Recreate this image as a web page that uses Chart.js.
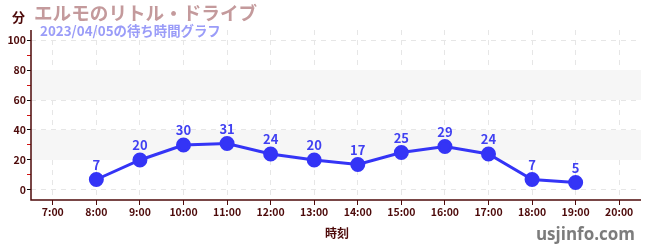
<!DOCTYPE html>
<html>
<head>
<meta charset="utf-8">
<script src="https://cdn.jsdelivr.net/npm/chart.js@4"></script>
<style>
  html, body { margin: 0; padding: 0; background: #fff; }
  #wrap { width: 650px; height: 250px; position: relative; }
</style>
</head>
<body>
<div id="wrap"><canvas id="chart" width="650" height="250"></canvas></div>
<script>
// ================= DATA =================
const hours = [8, 9, 10, 11, 12, 13, 14, 15, 16, 17, 18, 19];
const waits = [7, 20, 30, 31, 24, 20, 17, 25, 29, 24, 7, 5];
const xTicks = [7, 8, 9, 10, 11, 12, 13, 14, 15, 16, 17, 18, 19, 20];
const yTicks = [0, 10, 20, 30, 40, 50, 60, 70, 80, 90, 100];
const bands = [[20, 40], [60, 80]];

const titleText = "エルモのリトル・ドライブ";
const subText = "2023/04/05の待ち時間グラフ";

const JP = "'Noto Sans CJK JP', 'Noto Sans', sans-serif";
const AXIS = "#4d0a0a";
const GRID = "#e6e6e6";

// ================= PLUGINS =================
const bandPlugin = {
    id: "bands",
    beforeDatasetsDraw(chart) {
        const { ctx, chartArea, scales } = chart;
        ctx.save();
        ctx.fillStyle = "#f6f6f6";
        bands.forEach(([a, b]) => {
            const y1 = scales.y.getPixelForValue(b);
            const y2 = scales.y.getPixelForValue(a);
            ctx.fillRect(chartArea.left, y1, chartArea.right - chartArea.left, y2 - y1);
        });
        ctx.restore();
    }
};

// solid axis lines (the scale borders are hidden so grid lines can be dashed)
const axisLinePlugin = {
    id: "axisLines",
    afterDraw(chart) {
        const { ctx, chartArea } = chart;
        ctx.save();
        ctx.strokeStyle = AXIS;
        ctx.lineWidth = 1.5;
        ctx.beginPath();
        ctx.moveTo(chartArea.left, chartArea.top);
        ctx.lineTo(chartArea.left, chartArea.bottom);
        ctx.lineTo(chartArea.right, chartArea.bottom);
        ctx.stroke();
        ctx.restore();
    }
};

const labelPlugin = {
    id: "pointLabels",
    afterDatasetsDraw(chart) {
        const { ctx } = chart;
        const meta = chart.getDatasetMeta(0);
        ctx.save();
        ctx.font = "bold 13px " + JP;
        ctx.fillStyle = "#4040f2";
        ctx.textAlign = "center";
        ctx.textBaseline = "bottom";
        meta.data.forEach((pt, i) => {
            ctx.fillText(String(waits[i]), pt.x, pt.y - 8);
        });
        ctx.restore();
    }
};

const textPlugin = {
    id: "texts",
    afterDraw(chart) {
        const { ctx } = chart;
        ctx.save();
        ctx.textBaseline = "alphabetic";
        ctx.textAlign = "left";
        ctx.font = "bold 13px " + JP;
        ctx.fillStyle = AXIS;
        ctx.fillText("分", 12, 22);
        ctx.font = "bold 18.6px " + JP;
        ctx.fillStyle = "#c49a9c";
        ctx.fillText(titleText, 34, 20);
        ctx.font = "bold 13.4px " + JP;
        ctx.fillStyle = "#9a9cf8";
        ctx.fillText(subText, 40, 36);
        ctx.textAlign = "center";
        ctx.font = "bold 12px " + JP;
        ctx.fillStyle = AXIS;
        ctx.fillText("時刻", 337, 238);
        ctx.textAlign = "right";
        ctx.font = "bold 17px 'Open Sans', 'DejaVu Sans', sans-serif";
        ctx.fillStyle = "#7c7c7c";
        ctx.fillText("usjinfo.com", 635, 240);
        ctx.restore();
    }
};

// ================= CHART =================
new Chart(document.getElementById("chart").getContext("2d"), {
    type: "line",
    data: {
        datasets: [{
            data: hours.map((h, i) => ({ x: h, y: waits[i] })),
            borderColor: "#3434f6",
            backgroundColor: "#3434f6",
            borderWidth: 3,
            pointRadius: 6,
            pointHoverRadius: 6,
            tension: 0
        }]
    },
    options: {
        responsive: false,
        animation: false,
        events: [],
        layout: { padding: { top: 30, right: 9, left: 0, bottom: 0 } },
        plugins: { legend: { display: false }, tooltip: { enabled: false } },
        scales: {
            x: {
                type: "linear",
                min: 6.5,
                max: 20.5,
                afterBuildTicks: s => { s.ticks = xTicks.map(v => ({ value: v })); },
                afterFit: s => { s.height = 50; },
                border: { display: false, dash: [5, 5] },
                grid: {
                    color: c => (c.tick && xTicks.includes(c.tick.value)) ? GRID : "rgba(0,0,0,0)",
                    tickColor: c => (c.tick && xTicks.includes(c.tick.value)) ? AXIS : "rgba(0,0,0,0)",
                    tickLength: 5,
                    tickBorderDash: []
                },
                ticks: {
                    color: AXIS,
                    font: { family: JP, size: 10.5, weight: "bold" },
                    padding: 1,
                    maxRotation: 0,
                    callback: v => v + ":00"
                }
            },
            y: {
                min: -6.67,
                max: 106.67,
                afterBuildTicks: s => { s.ticks = yTicks.map(v => ({ value: v })); },
                afterFit: s => { s.width = 31; },
                border: { display: false, dash: [5, 5] },
                grid: {
                    color: c => (c.tick && c.tick.value % 20 === 0) ? GRID : "rgba(0,0,0,0)",
                    tickColor: c => (c.tick && c.tick.value % 20 === 0) ? "#111" : "#d01010",
                    tickLength: 4,
                    tickBorderDash: []
                },
                ticks: {
                    color: AXIS,
                    font: { family: JP, size: 10.5, weight: "bold" },
                    padding: 1,
                    callback: v => (v % 20 === 0 ? v : "")
                }
            }
        }
    },
    plugins: [bandPlugin, labelPlugin, axisLinePlugin, textPlugin]
});
</script>
</body>
</html>
